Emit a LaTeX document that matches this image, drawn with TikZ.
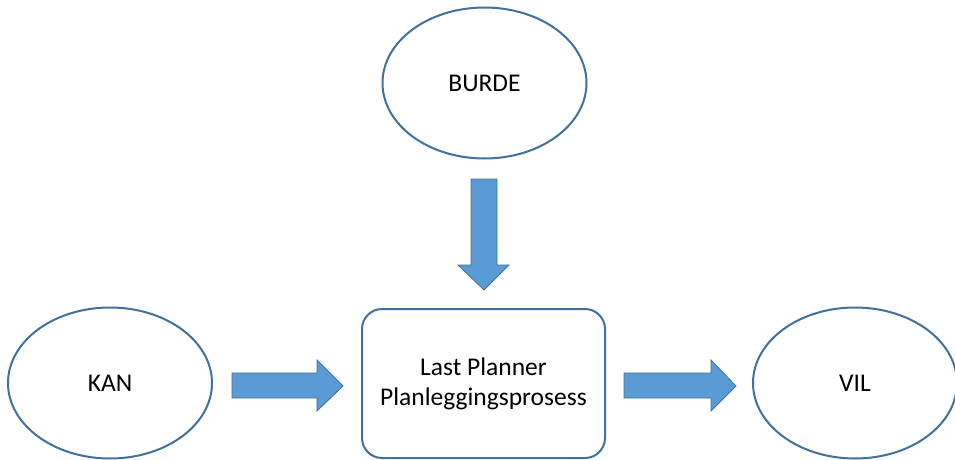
\documentclass[tikz,border=0pt]{standalone}
\usepackage{fontspec}
\setmainfont{Carlito}
\usetikzlibrary{shapes.geometric}
\definecolor{edgeblue}{HTML}{41719C}
\definecolor{fillblue}{HTML}{5B9BD5}
\tikzset{
  oval/.style={ellipse, draw=edgeblue, line width=2pt, fill=white,
    minimum width=204pt, minimum height=151pt, inner sep=0pt,
    font=\fontsize{25.5}{30}\selectfont},
  procbox/.style={rectangle, rounded corners=20pt, draw=edgeblue, line width=2pt,
    fill=white, minimum width=243pt, minimum height=149pt, inner sep=0pt,
    align=center, font=\fontsize{25.5}{30}\selectfont},
  blockarrow/.style={fill=fillblue, draw=edgeblue, line width=0.8pt, line join=miter}
}
\begin{document}
\begin{tikzpicture}[x=1pt, y=-1pt]
  \useasboundingbox (0,0) rectangle (955,460);
  \node[oval] (burde) at (484.5,83) {BURDE};
  \node[oval] (kan) at (110,383) {KAN};
  \node[oval] (vil) at (855,383) {VIL};
  \node[procbox] (plan) at (483.5,383.5) {Last Planner\\Planleggingsprosess};
  % block arrow from BURDE down to the planning box
  \draw[blockarrow] (471,179) -- (497,179) -- (497,265) -- (509,265) -- (484,290)
    -- (458,265) -- (471,265) -- cycle;
  % block arrow from KAN to the planning box
  \draw[blockarrow] (232,373) -- (317,373) -- (317,360) -- (343,386) -- (317,411)
    -- (317,398) -- (232,398) -- cycle;
  % block arrow from the planning box to VIL
  \draw[blockarrow] (624,373) -- (711,373) -- (711,360) -- (736,386) -- (711,411)
    -- (711,398) -- (624,398) -- cycle;
\end{tikzpicture}
\end{document}
